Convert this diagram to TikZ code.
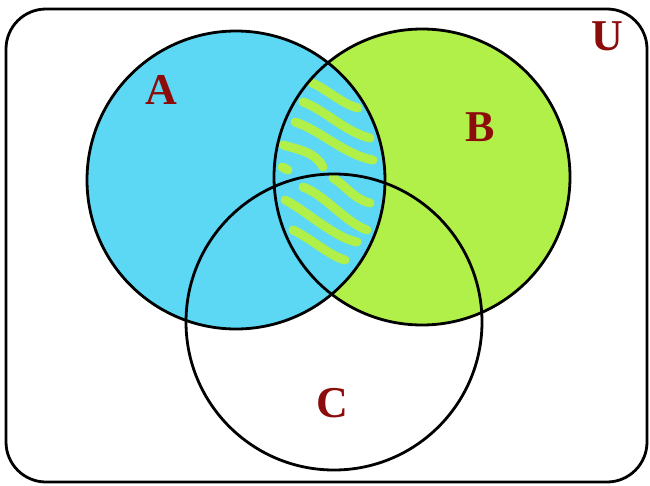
\documentclass[tikz,border=0pt]{standalone}
\usepackage{fontspec}
\setmainfont{Liberation Serif}
\definecolor{setblue}{RGB}{92,216,244}
\definecolor{setgreen}{RGB}{176,240,72}
\definecolor{labelred}{RGB}{140,12,12}
\tikzset{
  outline/.style={draw=black, line width=2.8pt},
  setlabel/.style={text=labelred, font=\fontsize{44}{44}\selectfont\bfseries, inner sep=0pt},
  stripe/.style={draw=setgreen, line width=9pt, line cap=round}
}
\begin{document}
\begin{tikzpicture}[x=1pt,y=-1pt]
\useasboundingbox (0,0) rectangle (650,485);
\fill[white] (0,0) rectangle (650,485);
% fills
\fill[setblue] (236,180) circle (149);
\fill[setgreen] (422,177) circle (148);
\begin{scope}
  \clip (236,180) circle (149);
  \clip (422,177) circle (148);
  \fill[setblue] (236,180) circle (149);
  \draw[stripe] (312,83) .. controls (325,88) and (342,104) .. (358,108);
  \draw[stripe] (303,102) .. controls (325,110) and (345,132) .. (370,138);
  \draw[stripe] (295,122) .. controls (320,130) and (345,155) .. (373,160);
  \draw[stripe] (283,145) .. controls (300,150) and (315,152) .. (323,167);
  \draw[stripe] (282,167) -- (288,170);
  \draw[stripe] (333,178) .. controls (345,185) and (355,200) .. (370,203);
  \draw[stripe] (303,187) .. controls (325,195) and (345,222) .. (367,230);
  \draw[stripe] (285,200) .. controls (305,210) and (335,238) .. (357,242);
  \draw[stripe] (293,230) .. controls (310,238) and (330,256) .. (345,260);
\end{scope}
% outlines
\draw[outline, rounded corners=40pt] (6,9) rectangle (647,482);
\draw[outline] (236,180) circle (149);
\draw[outline] (422,177) circle (148);
\draw[outline] (334,322) circle (148);
% labels
\node[setlabel] (lA) at (161,90) {A};
\node[setlabel] (lB) at (480,127) {B};
\node[setlabel] (lC) at (332,403) {C};
\node[setlabel] (lU) at (607,36) {U};
\end{tikzpicture}
\end{document}
